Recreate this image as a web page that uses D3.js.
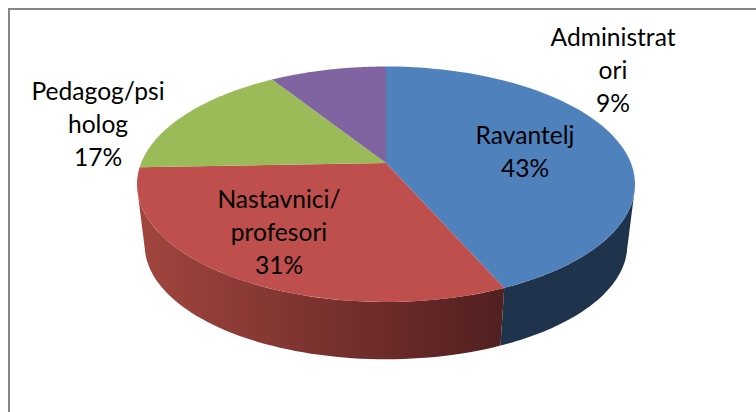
<!DOCTYPE html>
<html>
<head>
<meta charset="utf-8">
<script src="https://cdn.jsdelivr.net/npm/d3@7"></script>
<style>
html, body { margin: 0; padding: 0; background: #fff; }
text { font-family: Lato, "Open Sans", sans-serif; font-size: 24.6px; fill: #000; }
</style>
</head>
<body>
<div id="graph"></div>
<script>
// chart data
var categories = ["Ravantelj", "Nastavnici/ profesori", "Pedagog/psi holog", "Administrat ori"];
var labelLines = [["Ravantelj"], ["Nastavnici/", "profesori"], ["Pedagog/psi", "holog"], ["Administrat", "ori"]];
var values = [43.4, 31, 16.6, 9];
var colors = ["#4f81bd", "#be4f4c", "#9bbb59", "#8064a2"];
var sideColors = ["#1f334d", "url(#redSide)", "#5d7035", "#4c3c61"];

// where each label block sits (centre x, first baseline)
var labelPos = [[525, 144], [279, 208], [98, 100], [613, 46]];
var lineHeight = 33;

var width = 756, height = 412;

// pie apex and perspective of the disc
var cx = 386, cy = 163,
    a = 244.9, b = 113.9, k = 0.1805,
    vanishY = 2150, depthScale = 0.969;

// part of the rim that faces the viewer
var frontStart = Math.PI / 2 + Math.asin(k) + 0.035,
    frontEnd = 2 * Math.PI - frontStart;

var svg = d3.select("#graph")
    .append("svg")
        .attr("width", width)
        .attr("height", height)
        .style("display", "block");

var grad = svg.append("defs").append("linearGradient")
    .attr("id", "redSide")
    .attr("gradientUnits", "userSpaceOnUse")
    .attr("x1", 137).attr("x2", 502)
    .attr("y1", 0).attr("y2", 0);
grad.append("stop").attr("offset", "0%").attr("stop-color", "#a2463f");
grad.append("stop").attr("offset", "65%").attr("stop-color", "#6f2c2a");
grad.append("stop").attr("offset", "100%").attr("stop-color", "#512020");

// frame
svg.append("path")
    .attr("d", "M9," + height + "V9H" + width)
    .attr("fill", "none")
    .attr("stroke", "#868686")
    .attr("stroke-width", 2);

var pie = d3.pie().sort(null)(values);

// angle on the flat disc -> point on the top face
function topPoint(t) {
    var x = Math.sin(t), y = -Math.cos(t), w = 1 - k * y;
    return [cx + a * x / w, cy + b * y / w];
}
// same point on the bottom rim
function bottomPoint(t) {
    var p = topPoint(t);
    return [cx + (p[0] - cx) * depthScale, vanishY - (vanishY - p[1]) * depthScale];
}
function rim(start, end, fn) {
    return d3.range(0, 61).map(function(i) {
        return fn(start + (end - start) * i / 60);
    });
}

var line = d3.line();

// only the slices reaching the front rim get a side wall
svg.selectAll(".side")
    .data(pie.filter(function(d) { return d.startAngle < frontEnd && d.endAngle > frontStart; }))
    .enter()
    .append("path")
    .attr("class", "side")
    .attr("fill", function(d) { return sideColors[d.index]; })
    .attr("d", function(d) {
        var s = Math.max(d.startAngle, frontStart),
            e = Math.min(d.endAngle, frontEnd);
        return line(rim(s, e, topPoint).concat(rim(s, e, bottomPoint).reverse())) + "Z";
    });

svg.selectAll(".slice")
    .data(pie)
    .enter()
    .append("path")
    .attr("class", "slice")
    .attr("fill", function(d) { return colors[d.index]; })
    .attr("d", function(d) {
        return line([[cx, cy]].concat(rim(d.startAngle, d.endAngle, topPoint))) + "Z";
    });

var label = svg.selectAll(".label")
    .data(pie)
    .enter()
    .append("text")
    .attr("class", "label")
    .attr("text-anchor", "middle")
    .attr("aria-label", function(d) { return categories[d.index]; })
    .attr("transform", function(d) {
        return "translate(" + labelPos[d.index][0] + "," + labelPos[d.index][1] + ")";
    });

label.selectAll("tspan")
    .data(function(d) {
        return labelLines[d.index].concat([Math.round(d.value) + "%"]);
    })
    .enter()
    .append("tspan")
    .attr("x", 0)
    .attr("y", function(d, i) { return i * lineHeight; })
    .text(function(d) { return d; });
</script>
</body>
</html>
